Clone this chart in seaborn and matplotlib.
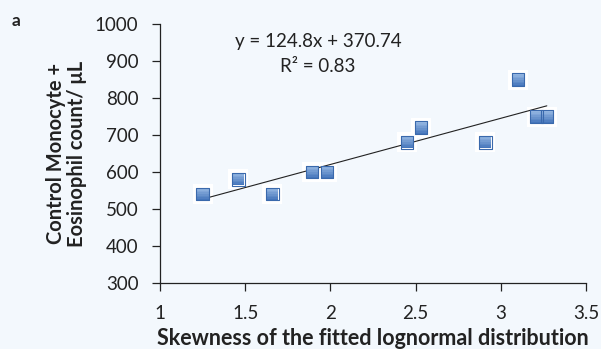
import matplotlib
matplotlib.use("Agg")
import matplotlib.pyplot as plt
import seaborn as sns
import numpy as np
import pandas as pd
from matplotlib.path import Path
from matplotlib.colors import to_rgb

skewness = [1.25, 1.46, 1.66, 1.89, 1.98, 2.45, 2.53, 2.91, 3.10, 3.21, 3.27]
counts = [540, 580, 540, 600, 600, 680, 720, 680, 850, 750, 750]
slope, intercept, r2 = 124.8, 370.74, 0.83
x_ticks = [1, 1.5, 2, 2.5, 3, 3.5]
y_ticks = [300, 400, 500, 600, 700, 800, 900, 1000]

bg = "#F3F8FD"
ink = "#222222"
sns.set_theme(style="ticks")
plt.rcParams["font.family"] = ["Lato", "DejaVu Sans"]

df = pd.DataFrame({"skew": skewness, "count": counts})

fig = plt.figure(figsize=(6.01, 3.49), dpi=100, facecolor=bg)
ax = fig.add_axes([160 / 601, 1 - 283 / 349, 426 / 601, 259 / 349])
ax.set_facecolor(bg)

# soft white glow behind each marker
ax.scatter(skewness, counts, marker="s", s=190, color="white", alpha=1.0,
           linewidths=0, zorder=2)

# regression line from the stated coefficients
xl = np.array([1.27, max(skewness)])
ax.plot(xl, slope * xl + intercept, color=ink, lw=0.8, zorder=3)

# base square markers
sns.scatterplot(data=df, x="skew", y="count", marker="s", s=78,
                color="#5A8ACB", linewidth=0, ax=ax, zorder=4, legend=False)

# vertical gradient inside each square, built from horizontal stripes
top_c, bot_c = np.array(to_rgb("#9DBDE6")), np.array(to_rgb("#3F71B8"))
n = 8
edges = np.linspace(1, -1, n + 1)
for i in range(n):
    y0, y1 = edges[i + 1], edges[i]
    stripe = Path([(-1, y0), (1, y0), (1, y1), (-1, y1), (-1, y0)], closed=True)
    t = (i + 0.5) / n
    col = top_c * (1 - t) + bot_c * t
    ax.scatter(skewness, counts, marker=stripe, s=78, color=[col],
               linewidths=0, zorder=5)

# square outline
ax.scatter(skewness, counts, marker="s", s=78, facecolors="none",
           edgecolors="#3A69AC", linewidths=0.8, zorder=6)

ax.set_xlim(1, 3.5)
ax.set_ylim(300, 1000)
ax.set_xticks(x_ticks)
ax.set_xticklabels(["1", "1.5", "2", "2.5", "3", "3.5"])
ax.set_yticks(y_ticks)
for s in ["top", "right"]:
    ax.spines[s].set_visible(False)
for s in ["left", "bottom"]:
    ax.spines[s].set_color(ink)
    ax.spines[s].set_linewidth(0.9)
ax.tick_params(axis="both", direction="out", length=5.5, width=0.9,
               color=ink, labelsize=13.5, labelcolor=ink)
ax.tick_params(axis="y", pad=10)
ax.tick_params(axis="x", pad=10)

ax.set_xlabel("Skewness of the fitted lognormal distribution",
              fontsize=15.5, fontweight="bold", color=ink, labelpad=5)
ax.set_ylabel("Control Monocyte +\nEosinophil count/ μL",
              fontsize=14.5, fontweight="bold", color=ink, labelpad=6,
              linespacing=1.05)

ax.text(0.371, 0.932, f"y = {slope}x + {intercept}", transform=ax.transAxes,
        ha="center", va="center", fontsize=13.5, color=ink)
ax.text(0.371, 0.835, f"R² = {r2}", transform=ax.transAxes,
        ha="center", va="center", fontsize=13.5, color=ink)

fig.text(12 / 601, 1 - 21 / 349, "a", fontsize=12.5, fontweight="bold",
         ha="left", va="center", color=ink)

fig.savefig("out.png", dpi=100, facecolor=bg)
